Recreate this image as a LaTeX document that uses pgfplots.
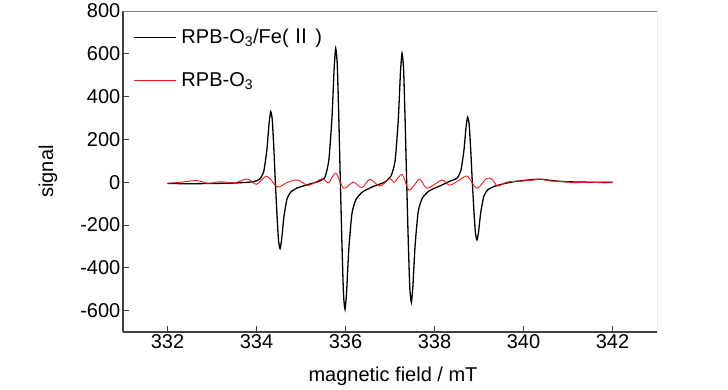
\documentclass[border=0pt]{standalone}
\usepackage{fontspec}
\setmainfont{Liberation Sans}
\newfontfamily\cjk{Noto Sans CJK SC}
\usepackage{pgfplots}
\pgfplotsset{compat=1.18}
\definecolor{frameDark}{HTML}{404040}
\definecolor{frameLight}{HTML}{808080}
\definecolor{epred}{HTML}{EE1C1C}
\newcommand{\fs}{\fontsize{20bp}{24bp}\selectfont}
\begin{document}
\begin{tikzpicture}[font=\fs]
\path[use as bounding box] (-123bp,-58bp) rectangle (605bp,332bp);
\begin{axis}[
  at={(0,0)}, anchor=south west,
  scale only axis, width=534bp, height=321bp,
  xmin=331, xmax=343, ymin=-700, ymax=800,
  xtick={332,334,336,338,340,342},
  ytick={-600,-400,-200,0,200,400,600,800},
  yticklabels={-600,-400,-200,0,200,400,600,800},
  /pgf/number format/assume math mode=true,
  tick align=inside, xtick pos=bottom, ytick pos=left,
  major tick length=6bp,
  tick style={frameDark, line width=1bp},
  axis x line*=bottom, axis y line*=left,
  axis line style={frameDark, line width=1.3bp, -},
  tick label style={font=\fs, inner sep=2.5bp},
  label style={font=\fs},
  xlabel={magnetic field / mT},
  ylabel={signal},
  xlabel style={at={(axis description cs:0.5,0)}, anchor=center, yshift=-44bp, xshift=3bp},
  ylabel style={at={([xshift=-75bp]axis description cs:0,0.5)}, anchor=center},
  legend style={draw=none, fill=none, font=\fs, at={(axis description cs:0,1)}, anchor=north west, xshift=7bp, yshift=-14bp, row sep=23bp},
  legend cell align=left,
  legend image code/.code={\draw[#1] (0bp,0bp) -- (42bp,0bp); \path (45bp,0bp);},
]
\draw[frameLight, line width=1bp] (rel axis cs:0,1) -- (rel axis cs:1,1) -- (rel axis cs:1,0);
\addplot[black, line width=1.3bp, smooth, tension=0.35] coordinates {
(332.0,-6) (332.5,-7) (333.0,-6) (333.5,-4) (333.925,2) (334.075,15) (334.165,52)
(334.235,156) (334.285,280) (334.32,330) (334.355,290) (334.39,156) (334.425,-5)
(334.46,-151) (334.495,-273) (334.53,-310) (334.565,-267) (334.615,-164) (334.685,-78)
(334.775,-45) (334.925,-26) (335.175,-10) (335.385,3) (335.535,22) (335.625,103)
(335.695,298) (335.745,531) (335.78,626) (335.815,550) (335.85,298) (335.885,-4)
(335.92,-287) (335.955,-523) (335.99,-594) (336.025,-511) (336.075,-311) (336.145,-146)
(336.235,-81) (336.385,-45) (336.635,-19) (336.875,0) (337.025,30) (337.115,101)
(337.185,288) (337.235,512) (337.27,603) (337.305,530) (337.34,288) (337.375,-2)
(337.41,-271) (337.445,-495) (337.48,-562) (337.515,-484) (337.565,-293) (337.635,-136)
(337.725,-75) (337.875,-41) (338.125,-17) (338.35,5) (338.5,18) (338.59,52)
(338.66,146) (338.71,259) (338.745,304) (338.78,268) (338.815,146) (338.85,0)
(338.885,-130) (338.92,-238) (338.955,-270) (338.99,-232) (339.04,-140) (339.11,-65)
(339.2,-35) (339.35,-19) (339.6,-5) (339.8,3) (340.0,8) (340.2,12) (340.4,14)
(340.7,6) (341.0,2) (341.5,0) (342.0,0)
};
\addlegendentry{RPB-O\textsubscript{3}/Fe(\,{\cjk Ⅱ}\,)}
\addplot[epred, line width=0.9bp, smooth] coordinates {
(332.0,-5) (332.3,0) (332.67,8) (332.9,-5) (333.2,2) (333.5,-3) (333.8,15) (334.0,-10)
(334.23,28) (334.47,-22) (334.7,0) (334.93,10) (335.17,-15) (335.47,16) (335.62,-2)
(335.78,42) (335.96,-28) (336.17,0) (336.37,-25) (336.55,14) (336.77,-18) (336.99,16)
(337.1,0) (337.27,36) (337.42,-36) (337.55,-12) (337.67,14) (337.82,-28) (338.0,-10)
(338.18,10) (338.34,-14) (338.56,10) (338.74,28) (338.95,-28) (339.17,18) (339.3,12)
(339.42,-18) (339.62,0) (339.8,4) (340.0,6) (340.2,10) (340.4,14) (340.6,6) (340.9,2)
(341.2,-2) (341.5,0) (341.8,-3) (342.0,-2)
};
\addlegendentry{RPB-O\textsubscript{3}}
\end{axis}
\end{tikzpicture}
\end{document}
